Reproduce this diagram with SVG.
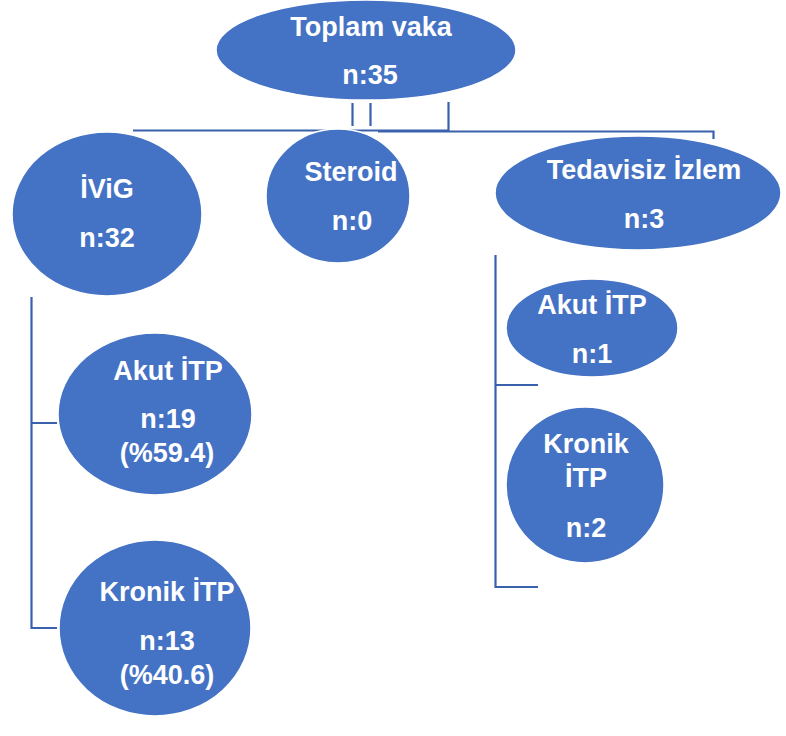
<svg xmlns="http://www.w3.org/2000/svg" width="786" height="736" viewBox="0 0 786 736">
<style>
.n{fill:#4472C4;stroke:#ffffff;stroke-width:1.5}
.t{font-family:"Liberation Sans",Arial,sans-serif;font-weight:bold;font-size:27px;fill:#ffffff;text-anchor:middle}
.c{stroke:#3A62AC;stroke-width:2.2;fill:none}
</style>
<rect width="786" height="736" fill="#ffffff"/>
<g id="connectors">
<path class="c" d="M352.5 103V126M370.5 103V126M448.5 102V131"/>
<path class="c" d="M133 130.5H448"/>
<path class="c" d="M378 131.5H713.5V139"/>
<path class="c" d="M31.5 297V628H57M31.5 423H57"/>
<path class="c" d="M495.5 255V587H538M495.5 385H538"/>
</g>
<g id="toplam"><ellipse class="n" cx="366" cy="50" rx="150" ry="50"/><text class="t" x="371" y="36">Toplam vaka</text><text class="t" x="370" y="84">n:35</text></g>
<g id="ivig"><ellipse class="n" cx="107" cy="214" rx="95" ry="82"/><text class="t" x="107" y="198">İViG</text><text class="t" x="107" y="247">n:32</text></g>
<g id="steroid"><ellipse class="n" cx="338" cy="196" rx="72" ry="67"/><text class="t" x="351" y="181">Steroid</text><text class="t" x="352" y="230">n:0</text></g>
<g id="tedavisiz"><ellipse class="n" cx="638" cy="193" rx="143" ry="57"/><text class="t" x="644" y="179">Tedavisiz İzlem</text><text class="t" x="644" y="228">n:3</text></g>
<g id="akut1"><ellipse class="n" cx="155" cy="414" rx="97" ry="81"/><text class="t" x="168" y="380">Akut İTP</text><text class="t" x="168" y="428">n:19</text><text class="t" x="167" y="462">(%59.4)</text></g>
<g id="kronik1"><ellipse class="n" cx="155" cy="628" rx="96" ry="88"/><text class="t" x="167" y="601">Kronik İTP</text><text class="t" x="167" y="650">n:13</text><text class="t" x="167" y="684">(%40.6)</text></g>
<g id="akut2"><ellipse class="n" cx="592" cy="328" rx="86" ry="49"/><text class="t" x="592" y="314">Akut İTP</text><text class="t" x="592" y="363">n:1</text></g>
<g id="kronik2"><ellipse class="n" cx="585" cy="485" rx="79" ry="78"/><text class="t" x="586" y="453">Kronik</text><text class="t" x="586" y="487">İTP</text><text class="t" x="586" y="537">n:2</text></g>
</svg>
